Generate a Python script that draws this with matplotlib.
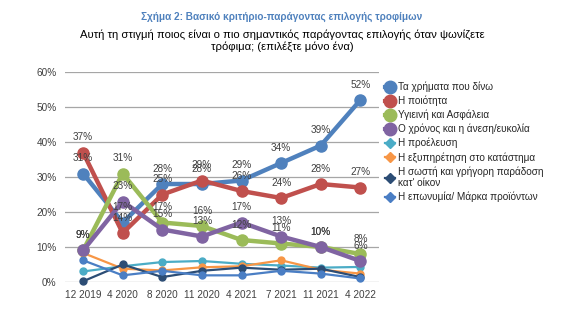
import matplotlib
matplotlib.use("Agg")
import matplotlib.pyplot as plt
from matplotlib.lines import Line2D

plt.rcParams['font.family'] = ['Liberation Sans', 'DejaVu Sans']

# ---- data ----
periods = ["12 2019", "4 2020", "8 2020", "11 2020", "4 2021", "7 2021", "11 2021", "4 2022"]

money = [31, 17, 28, 28, 29, 34, 39, 52]
quality = [37, 14, 25, 29, 26, 24, 28, 27]
health = [9, 31, 17, 16, 12, 11, 10, 8]
time_ease = [9, 23, 15, 13, 17, 13, 10, 6]
origin = [3, 4.5, 5.7, 6, 5.2, 4.7, 4.1, 4.3]
service = [8.3, 3.8, 3.3, 4.2, 4.5, 6.2, 3.5, 2.4]
delivery = [0.2, 5, 1.4, 3.2, 4.1, 3.5, 3.8, 1.4]
brand = [6.2, 1.9, 3.2, 1.9, 1.9, 3.2, 2.4, 1.0]

names = ["Τα χρήματα που δίνω", "Η ποιότητα", "Υγιεινή και Ασφάλεια",
         "Ο χρόνος και η άνεση/ευκολία", "Η προέλευση",
         "Η εξυπηρέτηση στο κατάστημα",
         "Η σωστή και γρήγορη παράδοση\nκατ' οίκον",
         "Η επωνυμία/ Μάρκα προϊόντων"]
colors = ["#4F81BD", "#C0504D", "#9BBB59", "#8064A2",
          "#4BACC6", "#F79646", "#2C4D75", "#4A7EC4"]

big = [money, quality, health, time_ease]
small = [origin, service, delivery, brand]

fig = plt.figure(figsize=(5.64, 3.26), dpi=100)
ax = fig.add_axes([0.115, 0.135, 0.557, 0.644])
x = list(range(len(periods)))

# small series first (drawn underneath)
for vals, c in zip(small, colors[4:]):
    ax.plot(x, vals, color=c, lw=1.6, marker="o", ms=5, clip_on=False, zorder=3)

# main series with value labels above the points
for vals, c in zip(big, colors[:4]):
    ax.plot(x, vals, color=c, lw=3.2, marker="o", ms=8, clip_on=False, zorder=4)
    for xi, v in zip(x, vals):
        ax.annotate(f"{v:.0f}%", (xi, v), xytext=(0, 11), textcoords="offset points",
                    ha="center", va="center", fontsize=7.2, color="#404040", zorder=6)

ax.set_ylim(0, 60)
ax.set_xlim(-0.46, 7.47)
ax.set_yticks(range(0, 61, 10))
ax.set_yticklabels([f"{t}%" for t in range(0, 61, 10)])
ax.set_xticks(x)
ax.set_xticklabels(periods)
ax.tick_params(length=0, labelsize=7.2, colors="#404040", pad=6)
ax.grid(axis="y", color="#A6A6A6", lw=0.9)
ax.set_axisbelow(True)
for s in ax.spines.values():
    s.set_visible(False)

# titles
fig.text(0.5, 0.948, "Σχήμα 2: Βασικό κριτήριο-παράγοντας επιλογής τροφίμων",
         ha="center", va="center", fontsize=7.2, fontweight="bold", color="#4F81BD")
fig.text(0.5, 0.875, "Αυτή τη στιγμή ποιος είναι ο πιο σημαντικός παράγοντας επιλογής όταν ψωνίζετε\nτρόφιμα; (επιλέξτε μόνο ένα)",
         ha="center", va="center", fontsize=8.1, color="#000000", linespacing=1.15)

# legend
handles = []
for i, c in enumerate(colors):
    if i < 4:
        handles.append(Line2D([], [], color=c, lw=3, marker="o", ms=9))
    else:
        handles.append(Line2D([], [], color=c, lw=1.6, marker="D", ms=5))
leg = fig.legend(handles, names, loc="upper left", bbox_to_anchor=(0.675, 0.762),
                 frameon=False, fontsize=7.2, handlelength=1.0, handletextpad=0.3,
                 labelspacing=0.36, borderaxespad=0)
for t in leg.get_texts():
    t.set_color("#262626")

fig.savefig("out.png", dpi=100)
